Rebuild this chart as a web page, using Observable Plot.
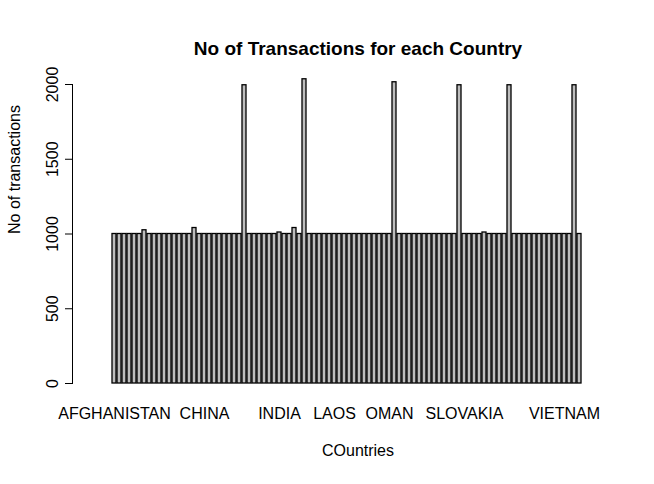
<!DOCTYPE html>
<html><head><meta charset="utf-8">
<script src="https://cdn.jsdelivr.net/npm/d3@7"></script>
<script src="https://cdn.jsdelivr.net/npm/@observablehq/plot@0.6"></script>
<style>body{margin:0;background:#fff}</style>
</head><body><div id="chart"></div>
<script>
const countries = ["AFGHANISTAN","ALBANIA","ALGERIA","ANDORRA","ANGOLA","ARGENTINA","ARMENIA","AUSTRALIA","AUSTRIA","AZERBAIJAN",
  "BAHRAIN","BANGLADESH","BELARUS","BELGIUM","BOLIVIA","BRAZIL","BULGARIA","CANADA","CHINA","COLOMBIA",
  "CROATIA","CUBA","CYPRUS","DENMARK","EGYPT","ESTONIA","FINLAND","FRANCE","GEORGIA","GERMANY",
  "GREECE","HUNGARY","ICELAND","INDIA","INDONESIA","IRAN","IRAQ","IRELAND","ISRAEL","ITALY",
  "JAPAN","JORDAN","KAZAKHSTAN","KENYA","LAOS","LATVIA","LEBANON","LITHUANIA","LUXEMBOURG","MALAYSIA",
  "MEXICO","MONGOLIA","NEPAL","NETHERLANDS","NORWAY","OMAN","PAKISTAN","PANAMA","PERU","PHILIPPINES",
  "POLAND","PORTUGAL","QATAR","ROMANIA","RUSSIA","RWANDA","SAUDI ARABIA","SENEGAL","SERBIA","SINGAPORE",
  "SLOVAKIA","SLOVENIA","SOMALIA","SOUTH AFRICA","SPAIN","SRI LANKA","SUDAN","SWEDEN","SWITZERLAND","SYRIA",
  "TAIWAN","TANZANIA","THAILAND","TUNISIA","TURKEY","UGANDA","UKRAINE","URUGUAY","UZBEKISTAN","VENEZUELA",
  "VIETNAM","YEMEN","ZAMBIA","ZIMBABWE"];
const counts = [1000,1000,1000,1000,1000,1000,1025,1000,1000,1000,
  1000,1000,1000,1000,1000,1000,1040,1000,1000,1000,
  1000,1000,1000,1000,1000,1000,1995,1000,1000,1000,
  1000,1000,1000,1010,1000,1000,1040,1000,2035,1000,
  1000,1000,1000,1000,1000,1000,1000,1000,1000,1000,
  1000,1000,1000,1000,1000,1000,2015,1000,1000,1000,
  1000,1000,1000,1000,1000,1000,1000,1000,1000,1995,
  1000,1000,1000,1000,1010,1000,1000,1000,1000,1995,
  1000,1000,1000,1000,1000,1000,1000,1000,1000,1000,
  1000,1000,1995,1000];
const shownLabels = ["AFGHANISTAN","CHINA","INDIA","LAOS","OMAN","SLOVAKIA","VIETNAM"];
const yTicks = [0,500,1000,1500,2000];

const data = countries.map((c, i) => ({country: c, n: counts[i]}));

const chart = Plot.plot({
  width: 654,
  height: 484,
  marginTop: 84,
  marginBottom: 101,
  marginLeft: 72,
  marginRight: 59,
  style: {fontFamily: "Liberation Sans, Arial, sans-serif", fontSize: "16px", color: "#000", background: "#fff"},
  x: {domain: countries, paddingInner: 0.17, paddingOuter: 0.05, insetLeft: 26, label: null},
  y: {domain: [0, 2000], label: null},
  marks: [
    Plot.barY(data, {x: "country", y: "n", fill: "#bebebe", stroke: "#000", strokeWidth: 1.3}),
    Plot.frame({anchor: "left", stroke: "#000"}),
    Plot.axisY({ticks: yTicks, tickFormat: d3.format("d"), tickSize: 7, tickPadding: 8, tickRotate: -90, fontSize: 16, label: null}),
    Plot.axisX({ticks: shownLabels, tickSize: 0, tickPadding: 24, fontSize: 16, label: null}),
    Plot.text(["No of Transactions for each Country"], {frameAnchor: "top", dy: -43, fontWeight: "bold", fontSize: 19, dx: 24}),
    Plot.text(["COuntries"], {frameAnchor: "bottom", dy: 72, fontSize: 16, dx: 24}),
    Plot.text(["No of transactions"], {frameAnchor: "left", dx: -58, rotate: -90, fontSize: 16})
  ]
});
document.getElementById("chart").append(chart);
</script>
</body></html>
